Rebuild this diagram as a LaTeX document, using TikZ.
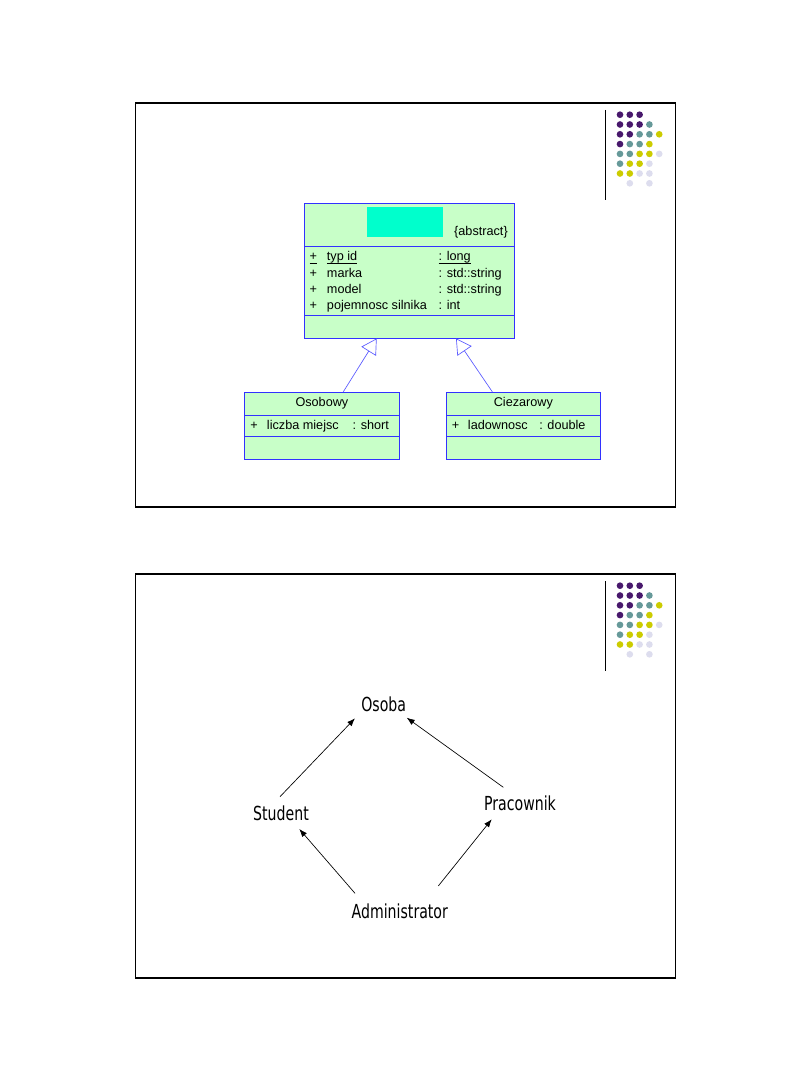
\documentclass[tikz,border=0pt]{standalone}
\usepackage{fontspec}
\setmainfont{Liberation Sans}
\newfontfamily\narrowfont[FakeStretch=0.73]{DejaVu Sans}
\usetikzlibrary{arrows.meta,calc,fit}

\definecolor{umlfill}{RGB}{200,255,200}
\definecolor{umlblue}{RGB}{50,50,255}
\definecolor{titlecyan}{RGB}{0,255,204}
\definecolor{dotP}{RGB}{72,24,108}
\definecolor{dotT}{RGB}{102,153,153}
\definecolor{dotY}{RGB}{204,204,0}
\definecolor{dotL}{RGB}{221,221,238}

\newcommand\myuline[1]{\setbox0\hbox{#1}\rlap{\rule[-1.7pt]{\wd0}{0.5pt}}\box0}

\begin{document}
\begin{tikzpicture}[x=0.75pt,y=-0.75pt,
  frame/.style={draw=black,line width=1pt},
  umlbox/.style={draw=umlblue,fill=umlfill,line width=0.6pt,inner sep=0pt},
  umlsep/.style={draw=umlblue,line width=0.6pt},
  umltext/.style={anchor=base west,inner sep=0pt,font=\fontsize{9.5pt}{11pt}\selectfont},
  umltitle/.style={anchor=base,inner sep=0pt,font=\fontsize{9.5pt}{11pt}\selectfont},
  gen/.style={draw=umlblue!80,line width=0.5pt,-{Triangle[open,length=11.4pt,width=12.9pt]}},
  lbl/.style={anchor=base,inner sep=0pt,font=\narrowfont\fontsize{14.5pt}{17pt}\selectfont},
  assoc/.style={draw=black,line width=0.5pt,-{Latex[length=6pt,width=4.5pt]}},
  dotgrid/.pic={
    \draw[line width=0.75pt] (-14.5,-4.7) -- (-14.5,85.3);
    \foreach \dc/\dr/\dcol in {0/0/dotP,1/0/dotP,2/0/dotP,
      0/1/dotP,1/1/dotP,2/1/dotP,3/1/dotT,
      0/2/dotP,1/2/dotP,2/2/dotT,3/2/dotT,4/2/dotY,
      0/3/dotP,1/3/dotT,2/3/dotT,3/3/dotY,
      0/4/dotT,1/4/dotT,2/4/dotY,3/4/dotY,4/4/dotL,
      0/5/dotT,1/5/dotY,2/5/dotY,3/5/dotL,
      0/6/dotY,1/6/dotY,2/6/dotL,3/6/dotL,
      1/7/dotL,3/7/dotL}{
      \fill[\dcol] (\dc*9.8,\dr*9.8) circle[radius=2.5pt];
    }
  }
]
\useasboundingbox (0,0) rectangle (810,1080);
\fill[white] (0,0) rectangle (810,1080);

% ---------- slide 1 ----------
\draw[frame] (135.5,103) rectangle (675.5,507);
\pic at (620,114.7) {dotgrid};

\node[umlbox,fit={(304,203) (514,338)}] (vehicle) {};
\draw[umlsep] (304,246) -- (514,246);
\draw[umlsep] (304,315) -- (514,315);
\node[fill=titlecyan,inner sep=0pt,fit={(367,206.7) (443,236.7)}] (classname) {};
\node[umltitle,anchor=base east] (abs) at (508,236) {\{abstract\}};

\node[umltext] (p1) at (309.3,261) {\myuline{+}};
\node[umltext] (n1) at (326.7,261) {\myuline{typ id}};
\node[umltext] (t1) at (438.3,261) {\myuline{: long}};
\node[umltext] (p2) at (309.3,277) {+};
\node[umltext] (n2) at (326.7,277) {marka};
\node[umltext] (t2) at (438.3,277) {: std::string};
\node[umltext] (p3) at (309.3,293) {+};
\node[umltext] (n3) at (326.7,293) {model};
\node[umltext] (t3) at (438.3,293) {: std::string};
\node[umltext] (p4) at (309.3,309.3) {+};
\node[umltext] (n4) at (326.7,309.3) {pojemnosc silnika};
\node[umltext] (t4) at (438.3,309.3) {: int};

\node[umlbox,fit={(244.7,392.3) (399,459)}] (osob) {};
\draw[umlsep] (244.7,415.7) -- (399,415.7);
\draw[umlsep] (244.7,436) -- (399,436);
\node[umltitle] (osobt) at (321.9,406.7) {Osobowy};
\node[umltext] (op) at (250,429.3) {+};
\node[umltext] (on) at (266.7,429.3) {liczba miejsc};
\node[umltext] (ot) at (352.3,429.3) {: short};

\node[umlbox,fit={(446.7,392.3) (600,459)}] (ciez) {};
\draw[umlsep] (446.7,415.7) -- (600,415.7);
\draw[umlsep] (446.7,436) -- (600,436);
\node[umltitle] (ciezt) at (523.35,406.7) {Ciezarowy};
\node[umltext] (cp) at (451.7,429.3) {+};
\node[umltext] (cn) at (467.7,429.3) {ladownosc};
\node[umltext] (ct) at (539,429.3) {: double};

\draw[gen] ($(osob.north)+(21.4,0)$) -- ($(vehicle.south)+(-32.3,0)$);
\draw[gen] ($(ciez.north)+(-31,0)$) -- ($(vehicle.south)+(47,0)$);

% ---------- slide 2 ----------
\draw[frame] (135.5,574) rectangle (675.5,978);
\pic at (620,585.7) {dotgrid};

\node[lbl] (osoba) at (383.7,711.7) {Osoba};
\node[lbl] (student) at (281,820) {Student};
\node[lbl] (prac) at (520,810.7) {Pracownik};
\node[lbl] (admin) at (399.8,918.3) {Administrator};

\draw[assoc] ($(student.base)+(-1,-23.3)$) -- ($(osoba.base)+(-28.7,6.6)$);
\draw[assoc] ($(prac.base)+(-16.7,-23.4)$) -- ($(osoba.base)+(23,6)$);
\draw[assoc] ($(admin.base)+(-44.8,-25)$) -- ($(student.base)+(18.3,9)$);
\draw[assoc] ($(admin.base)+(38.5,-32.3)$) -- ($(prac.base)+(-28.3,8.6)$);
\end{tikzpicture}
\end{document}
